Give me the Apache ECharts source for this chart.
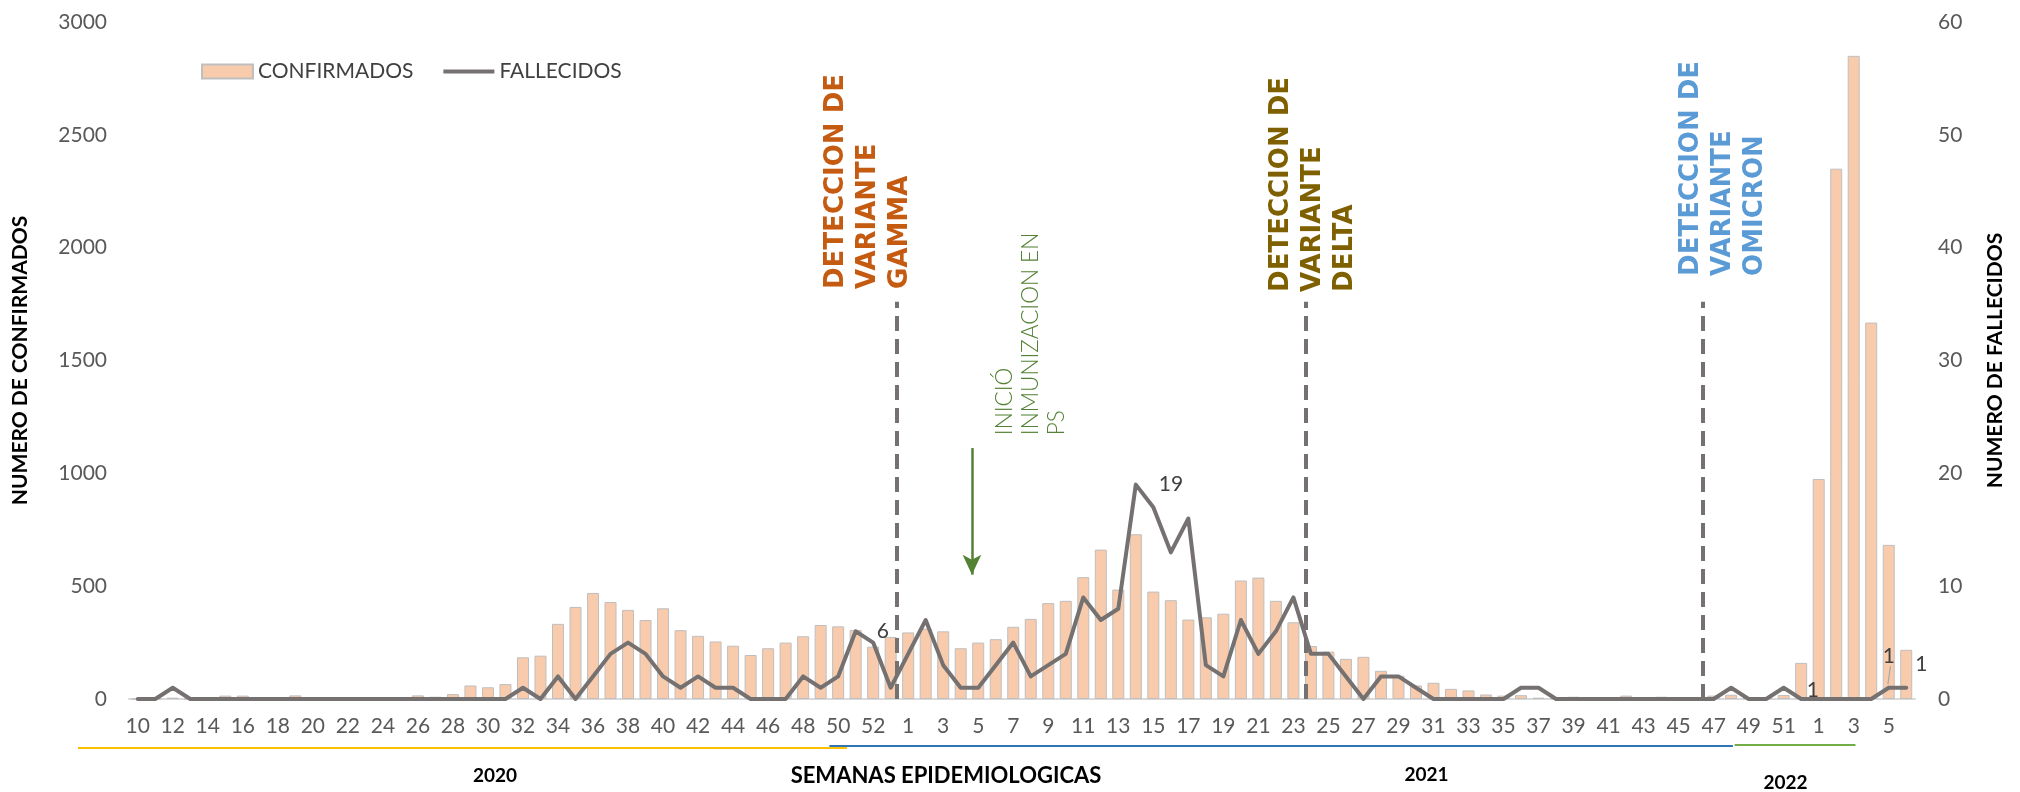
<!DOCTYPE html>
<html>
<head>
<meta charset="utf-8">
<title>Confirmados y fallecidos por semana epidemiologica</title>
<script src="https://cdn.jsdelivr.net/npm/echarts/dist/echarts.min.js"></script>
<style>
  html, body { margin: 0; padding: 0; background: #fff; }
  #main { width: 2020px; height: 792px; }
</style>
</head>
<body>
<div id="main"></div>
<script>
// semanas epidemiologicas por año
var weeks2020 = [10,11,12,13,14,15,16,17,18,19,20,21,22,23,24,25,26,27,28,29,30,31,32,33,34,35,36,37,38,39,40,41,42,43,44,45,46,47,48,49,50,51,52,53];
var weeks2021 = [1,2,3,4,5,6,7,8,9,10,11,12,13,14,15,16,17,18,19,20,21,22,23,24,25,26,27,28,29,30,31,32,33,34,35,36,37,38,39,40,41,42,43,44,45,46,47,48,49,50,51,52];
var weeks2022 = [1,2,3,4,5,6];

// casos confirmados (eje izquierdo)
var confirmados2020 = [0,0,6,0,3,15,15,2,2,16,0,0,0,0,0,0,16,10,22,60,52,66,185,192,333,408,470,430,395,350,402,305,280,255,236,195,225,250,278,328,322,306,232,275];
var confirmados2021 = [295,312,300,225,250,265,320,355,425,435,540,662,485,730,476,438,352,362,378,525,538,435,340,235,210,178,187,125,103,60,72,45,38,20,15,17,6,3,10,3,3,15,3,10,3,8,15,19,3,3,18,160];
var confirmados2022 = [975,2350,2850,1668,683,218];

// fallecidos (eje derecho)
var fallecidos2020 = [0,0,1,0,0,0,0,0,0,0,0,0,0,0,0,0,0,0,0,0,0,0,1,0,2,0,2,4,5,4,2,1,2,1,1,0,0,0,2,1,2,6,5,1];
var fallecidos2021 = [4,7,3,1,1,3,5,2,3,4,9,7,8,19,17,13,16,3,2,7,4,6,9,4,4,2,0,2,2,1,0,0,0,0,0,1,1,0,0,0,0,0,0,0,0,0,0,1,0,0,1,0];
var fallecidos2022 = [0,0,0,0,1,1];

// puntos con etiqueta de valor (indice en la serie completa)
var labelledPoints = [41, 57, 94, 100, 101];

// eventos: posicion sobre el eje de semanas (indice continuo)
var variantWeeks = [43.36, 66.72, 89.39];
var variantNames = ['GAMMA', 'DELTA', 'OMICRON'];
var variantColors = ['#c55a11', '#7f6000', '#5b9bd5'];
var yearNames = ['2020', '2021', '2022'];

var categories = [];
weeks2020.forEach(function (w) { categories.push('2020-' + w); });
weeks2021.forEach(function (w) { categories.push('2021-' + w); });
weeks2022.forEach(function (w) { categories.push('2022-' + w); });
var confirmados = confirmados2020.concat(confirmados2021, confirmados2022);
var fallecidos = fallecidos2020.concat(fallecidos2021, fallecidos2022);

var labelPlacement = {
  41: { position: 'right', distance: 20 },
  57: { position: 'right', distance: 22 },
  94: { position: 'right', distance: 22, offset: [0, 3] },
  100: { position: 'top', distance: 20 },
  101: { position: 'right', distance: 8, offset: [0, -23] }
};

var lineData = fallecidos.map(function (v, i) {
  if (labelledPoints.indexOf(i) < 0) return v;
  var p = labelPlacement[i];
  return {
    value: v,
    label: {
      show: true,
      position: p.position,
      distance: p.distance,
      offset: p.offset || [0, 0],
      formatter: '{c}',
      fontFamily: 'Lato',
      fontSize: 21,
      color: '#404040'
    }
  };
});

var tickFont = { fontFamily: 'Lato', fontSize: 21, color: '#595959' };
var titleFont = { fontFamily: 'Lato', fontWeight: 'bold', fontSize: 21, color: '#000' };

var chart = echarts.init(document.getElementById('main'));

var option = {
  animation: false,
  grid: { left: 129, right: 105, top: 22, bottom: 90 },
  legend: {
    left: 196,
    top: 56,
    itemWidth: 51,
    itemHeight: 14,
    itemGap: 30,
    textStyle: { fontFamily: 'Lato', fontSize: 21, color: '#404040' },
    data: [
      { name: 'CONFIRMADOS', icon: 'rect' },
      { name: 'FALLECIDOS', icon: 'path://M0,0 L54,0 L54,4 L0,4 Z' }
    ]
  },
  xAxis: [{
    type: 'category',
    data: categories,
    name: 'SEMANAS EPIDEMIOLOGICAS',
    nameLocation: 'middle',
    nameGap: 66,
    nameTextStyle: {
      fontFamily: 'Lato', fontWeight: 'bold', fontSize: 22, color: '#000',
      padding: [0, 152, 0, 0]
    },
    axisLine: { lineStyle: { color: '#d9d9d9', width: 2 } },
    axisTick: { show: false },
    axisLabel: Object.assign({
      interval: 1,
      margin: 17,
      formatter: function (v) { return v.split('-')[1]; }
    }, tickFont)
  }, {
    type: 'value',
    min: -0.5,
    max: 101.5,
    show: false
  }],
  yAxis: [{
    type: 'value',
    min: 0,
    max: 3000,
    interval: 500,
    name: 'NUMERO DE CONFIRMADOS',
    nameLocation: 'middle',
    nameRotate: 90,
    nameGap: 98,
    nameTextStyle: titleFont,
    axisLabel: Object.assign({ margin: 22, formatter: function (v) { return String(v); } }, tickFont),
    axisLine: { show: false },
    axisTick: { show: false },
    splitLine: { show: false }
  }, {
    type: 'value',
    min: 0,
    max: 60,
    interval: 10,
    position: 'right',
    name: 'NUMERO DE FALLECIDOS',
    nameLocation: 'middle',
    nameRotate: 90,
    nameGap: 70,
    nameTextStyle: titleFont,
    axisLabel: Object.assign({ margin: 23 }, tickFont),
    axisLine: { show: false },
    axisTick: { show: false },
    splitLine: { show: false }
  }],
  series: [{
    name: 'CONFIRMADOS',
    type: 'bar',
    xAxisIndex: 0,
    yAxisIndex: 0,
    barWidth: 12,
    itemStyle: { color: '#f8cbad', borderColor: '#bfbfbf', borderWidth: 1 },
    data: confirmados
  }, {
    name: 'FALLECIDOS',
    type: 'line',
    xAxisIndex: 0,
    yAxisIndex: 1,
    symbol: 'circle',
    symbolSize: 2,
    showSymbol: true,
    lineStyle: { color: '#767171', width: 4, cap: 'round', join: 'round' },
    itemStyle: { color: '#767171' },
    data: lineData,
    z: 3
  }, {
    type: 'line',
    xAxisIndex: 1,
    yAxisIndex: 0,
    data: [],
    silent: true,
    z: 5,
    markLine: {
      symbol: 'none',
      silent: true,
      label: { show: false },
      lineStyle: { color: '#767171', width: 4, type: [15, 8] },
      data: variantWeeks.map(function (w) {
        return [{ coord: [w, 0] }, { coord: [w, 1760] }];
      })
    }
  }, {
    type: 'line',
    xAxisIndex: 1,
    yAxisIndex: 0,
    data: [],
    silent: true,
    z: 5,
    markLine: {
      symbol: ['none', 'arrow'],
      symbolSize: [14, 20],
      silent: true,
      label: { show: false },
      lineStyle: { color: '#548235', width: 2.5, type: 'solid' },
      data: [[{ coord: [47.64, 1112] }, { coord: [47.64, 551] }]]
    }
  }, {
    // linea guia de la etiqueta de la semana 5 de 2022
    type: 'line',
    xAxisIndex: 1,
    yAxisIndex: 1,
    data: [],
    silent: true,
    z: 4,
    markLine: {
      symbol: 'none',
      silent: true,
      label: { show: false },
      lineStyle: { color: '#a6a6a6', width: 1.2, type: 'solid' },
      data: [[{ coord: [99.95, 1.3] }, { coord: [100.1, 2.9] }]]
    }
  }]
};

chart.setOption(option);

function px(x, y) {
  return chart.convertToPixel({ xAxisIndex: 1, yAxisIndex: 0 }, [x, y]);
}

var graphics = [];

// textos de deteccion de variantes
var variantTextAt = [[41.7, 1817], [67.12, 1804], [90.53, 1875]];
variantNames.forEach(function (name, i) {
  var p = px(variantTextAt[i][0], variantTextAt[i][1]);
  graphics.push({
    type: 'text',
    x: p[0],
    y: p[1],
    rotation: Math.PI / 2,
    z: 10,
    style: {
      text: 'DETECCION DE\nVARIANTE\n' + name,
      fill: variantColors[i],
      font: 'bold 26px "DejaVu Sans"',
      lineHeight: 32,
      align: 'left',
      verticalAlign: 'middle'
    }
  });
});

// inicio de inmunizacion
var pImm = px(51.0, 1169);
graphics.push({
  type: 'text',
  x: pImm[0],
  y: pImm[1],
  rotation: Math.PI / 2,
  z: 10,
  style: {
    text: 'INICIÓ\nINMUNIZACION EN\nPS',
    fill: '#548235',
    font: '300 22.5px Lato',
    lineHeight: 26,
    align: 'left',
    verticalAlign: 'middle'
  }
});

// lineas de color bajo las semanas de cada año
var yearSpans = [[-3.41, 40.5], [39.5, 91.1], [91.2, 98.1]];
var yearColors = ['#ffc000', '#2e75b6', '#70ad47'];
var yearLineY = [748, 746, 745];
yearSpans.forEach(function (s, i) {
  var a = px(s[0], 0), b = px(s[1], 0);
  graphics.push({
    type: 'line',
    shape: { x1: a[0], y1: yearLineY[i], x2: b[0], y2: yearLineY[i] },
    style: { stroke: yearColors[i], lineWidth: 2 }
  });
});

// años
var yearTextAt = [20.4, 73.6, 94.1];
var yearTextY = [776, 775, 783];
yearNames.forEach(function (y, i) {
  var p = px(yearTextAt[i], 0);
  graphics.push({
    type: 'text',
    x: p[0],
    y: yearTextY[i],
    style: {
      text: y,
      fill: '#000',
      font: 'bold 19px Lato',
      align: 'center',
      verticalAlign: 'middle'
    }
  });
});

chart.setOption({ graphic: graphics });
</script>
</body>
</html>
